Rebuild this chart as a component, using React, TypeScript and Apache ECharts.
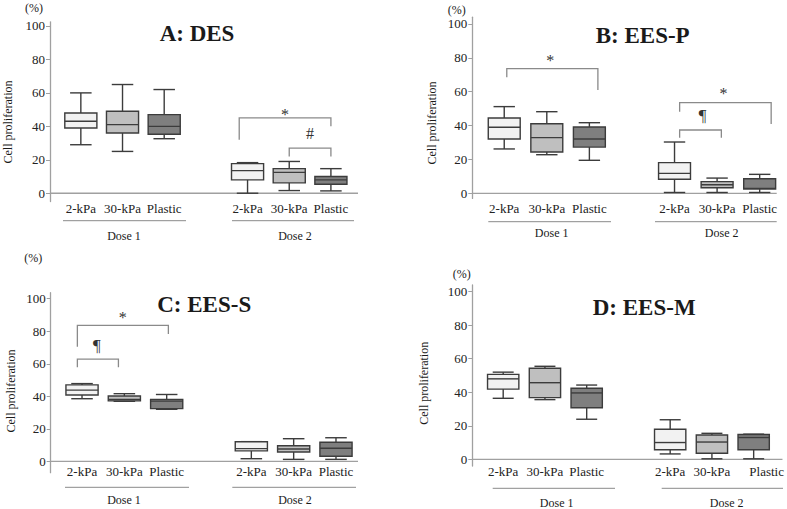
import React, { useEffect, useRef } from 'react';
import * as echarts from 'echarts';

const materials = ['2-kPa', '30-kPa', 'Plastic'];
const doses = ['Dose 1', 'Dose 2'];
const yTicks = [0, 20, 40, 60, 80, 100];
const panelTitles = ['A: DES', 'B: EES-P', 'C: EES-S', 'D: EES-M'];
const yTitle = 'Cell proliferation';
const unitLabel = '(%)';

// box stats: [min, Q1, median, Q3, max] for 2-kPa, 30-kPa, Plastic
const desDose1 = [[29, 39, 43, 48, 60], [25, 36, 41, 49, 65], [32.6, 35.3, 40, 47, 62]];
const desDose2 = [[0, 8, 13.5, 17.7, 18.3], [1.6, 6.2, 12.5, 14.7, 19], [1.4, 5.4, 8, 10, 14.7]];
const eesPDose1 = [[26.2, 32.1, 39, 44.5, 51.2], [22.8, 24.4, 32.9, 41.1, 48.2], [19.5, 27.3, 32.1, 39.2, 41.7]];
const eesPDose2 = [[0.5, 8.3, 11.8, 18.1, 30.3], [0.5, 3.3, 5.1, 6.9, 9], [0.5, 2.5, 2.9, 8.6, 11.2]];
const eesSDose1 = [[38.5, 40.8, 43.8, 47, 47.8], [36.9, 37.2, 38, 40.2, 41.6], [32, 32.4, 37, 38.1, 41.1]];
const eesSDose2 = [[1.6, 6.4, 7.8, 12, 12.1], [1.2, 5.7, 7.6, 9.6, 13.9], [1.2, 3.1, 8, 11.7, 14.5]];
const eesMDose1 = [[36.4, 41.9, 48, 50.7, 52], [35.6, 36.8, 45.7, 54.3, 55.5], [23.9, 30.8, 39.6, 42.4, 44.3]];
const eesMDose2 = [[3.2, 5.7, 10, 17.9, 23.6], [0.3, 3.6, 10.3, 14.5, 15.5], [0.3, 5.7, 13, 14.8, 15]];

// significance brackets: [leftX, rightX, topY, leftLegY, rightLegY, markX, markY]
const desBrackets = [[4.8, 7, 45, 32, 40, 5.9, 47], [6, 7, 27, 22, 22, 6.5, 36]];
const desMarks = ['*', '#'];
const eesPBrackets = [[1.06, 3.2, 73.6, 68.5, 61, 2.08, 78.5], [5.12, 7.27, 53.5, 48.2, 41, 6.15, 59], [5.12, 6.1, 37.4, 32.8, 32.8, 5.66, 46]];
const eesPMarks = ['*', '*', '¶'];
const eesSBrackets = [[0.89, 3.04, 83.6, 70.5, 78.3, 1.96, 88.5], [0.89, 1.86, 62.9, 57.8, 57.8, 1.35, 71.5]];
const eesSMarks = ['*', '¶'];
const eesMBrackets: number[][] = [];
const eesMMarks: string[] = [];

const fills = ['#f2f2f2', '#bfbfbf', '#7f7f7f'];
const FONT = 'Liberation Serif, Times New Roman, serif';

const panels = [
  { d1: desDose1, d2: desDose2, br: desBrackets, marks: desMarks,
    grid: { left: 50, top: 21.8, width: 308, height: 179.8 }, x: [0.26, 7.65], y: [-5, 102.5], boxFrac: 0.77, labelMargin: 0, shiftLast: false,
    titlePos: [197, 33], pctPos: [34, 7.5], yNamePos: [7.5, 122], underY: 220.7, under: [[63, 186], [232, 354]], doseY: 236, doseX: [124, 295] },
  { d1: eesPDose1, d2: eesPDose2, br: eesPBrackets, marks: eesPMarks,
    grid: { left: 472.3, top: 17.2, width: 304.4, height: 181.2 }, x: [0.25, 7.4], y: [-3, 104], boxFrac: 0.75, labelMargin: 3.4, shiftLast: false,
    titlePos: [642.7, 35], pctPos: [456.7, 9.5], yNamePos: [431.7, 123], underY: 221.7, under: [[488.3, 611], [655, 776.7]], doseY: 233.3, doseX: [551.7, 721.7] },
  { d1: eesSDose1, d2: eesSDose2, br: eesSBrackets, marks: eesSMarks,
    grid: { left: 50.7, top: 292.7, width: 307.3, height: 180 }, x: [0.26, 7.52], y: [-7, 103.7], boxFrac: 0.76, labelMargin: -7.5, shiftLast: false,
    titlePos: [204.2, 304], pctPos: [33.3, 257.5], yNamePos: [10.8, 391], underY: 487.3, under: [[65, 189], [232.3, 356]], doseY: 500, doseX: [124, 295] },
  { d1: eesMDose1, d2: eesMDose2, br: eesMBrackets, marks: eesMMarks,
    grid: { left: 472.3, top: 285, width: 310.7, height: 181 }, x: [0.26, 7.69], y: [-4, 104], boxFrac: 0.75, labelMargin: -0.8, shiftLast: true,
    titlePos: [644.2, 307.5], pctPos: [461.7, 273.5], yNamePos: [424, 383.3], underY: 488.3, under: [[492.7, 615], [661.7, 783]], doseY: 503.3, doseX: [556.7, 726.7] },
];

const slotOf = (dose: number, mat: number) => dose * 4 + mat + 1;

export default function App() {
  const ref = useRef<HTMLDivElement>(null);
  useEffect(() => {
    if (!ref.current) return;
    const chart = echarts.init(ref.current, null, { renderer: 'svg' });
    const grids: any[] = [];
    const xAxes: any[] = [];
    const yAxes: any[] = [];
    const series: any[] = [];
    const graphics: any[] = [];
    const lineCol = '#a0a0a0';
    const boxStroke = '#3c3c3c';

    panels.forEach((p, pi) => {
      grids.push({ ...p.grid, containLabel: false });
      xAxes.push({
        type: 'value', gridIndex: pi, min: p.x[0], max: p.x[1],
        splitLine: { show: false },
        axisTick: { show: false },
        axisLine: { show: false, onZero: false },
        axisLabel: {
          customValues: [1, 2, 3, 5, 6, 7],
          margin: p.labelMargin,
          color: '#222', fontFamily: FONT, fontSize: 13,
          rich: { s: { padding: [0, 0, 0, 26], color: '#222', fontFamily: FONT, fontSize: 13 } },
          formatter: (v: number) => {
            const i = Math.round(v);
            const k = i > 4 ? i - 5 : i - 1;
            const name = materials[k] ?? '';
            return p.shiftLast && i === 7 ? `{s|${name}}` : name;
          },
        },
      });
      yAxes.push({
        type: 'value', gridIndex: pi, min: p.y[0], max: p.y[1],
        splitLine: { show: false },
        axisLine: { show: true, onZero: false, lineStyle: { color: lineCol, width: 1.3 } },
        axisTick: { show: true, customValues: yTicks, length: 4, lineStyle: { color: lineCol } },
        axisLabel: { customValues: yTicks, color: '#222', fontFamily: FONT, fontSize: 13, margin: 5 },
      });
      // baseline (x-axis line at value 0)
      series.push({
        type: 'line', name: 'baseline', xAxisIndex: pi, yAxisIndex: pi, silent: true,
        data: [[p.x[0], 0], [p.x[1], 0]], symbol: 'none',
        lineStyle: { color: lineCol, width: 1.3 }, z: 1,
      });
      materials.forEach((m, mi) => {
        series.push({
          type: 'custom', name: m, xAxisIndex: pi, yAxisIndex: pi, clip: false, silent: true, z: 3,
          data: [0, 1].map((d) => [slotOf(d, mi), ...(d === 0 ? p.d1 : p.d2)[mi]]),
          renderItem: (params: any, api: any) => {
            const x = api.value(0);
            const lo = api.value(1), q1 = api.value(2), md = api.value(3), q3 = api.value(4), hi = api.value(5);
            const c = (v: number) => api.coord([x, v]);
            const cx = c(md)[0];
            const unit = api.size([1, 0])[0];
            const bw = unit * p.boxFrac;
            const cw = bw * 0.67;
            const yLo = c(lo)[1], yQ1 = c(q1)[1], yMd = c(md)[1], yQ3 = c(q3)[1], yHi = c(hi)[1];
            const st = { stroke: boxStroke, lineWidth: 1.4 };
            return {
              type: 'group',
              children: [
                { type: 'line', shape: { x1: cx, y1: yHi, x2: cx, y2: yQ3 }, style: st },
                { type: 'line', shape: { x1: cx, y1: yQ1, x2: cx, y2: yLo }, style: st },
                { type: 'line', shape: { x1: cx - cw / 2, y1: yHi, x2: cx + cw / 2, y2: yHi }, style: st },
                { type: 'line', shape: { x1: cx - cw / 2, y1: yLo, x2: cx + cw / 2, y2: yLo }, style: st },
                { type: 'rect', shape: { x: cx - bw / 2, y: yQ3, width: bw, height: yQ1 - yQ3 }, style: { fill: fills[mi], stroke: boxStroke, lineWidth: 1.4 } },
                { type: 'line', shape: { x1: cx - bw / 2, y1: yMd, x2: cx + bw / 2, y2: yMd }, style: st },
              ],
            };
          },
        });
      });
      if (p.br.length) {
        series.push({
          type: 'custom', name: 'significance', xAxisIndex: pi, yAxisIndex: pi, clip: false, silent: true, z: 3,
          data: p.br,
          renderItem: (params: any, api: any) => {
            const x1 = api.value(0), x2 = api.value(1), top = api.value(2), l = api.value(3), r = api.value(4);
            const mx = api.value(5), my = api.value(6);
            const pt = api.coord([mx, my]);
            const mark = p.marks[params.dataIndex];
            return {
              type: 'group',
              children: [
                { type: 'polyline', shape: { points: [api.coord([x1, l]), api.coord([x1, top]), api.coord([x2, top]), api.coord([x2, r])] },
                  style: { stroke: '#8a8a8a', lineWidth: 1.3, fill: 'none' } },
                { type: 'text', x: pt[0], y: pt[1],
                  style: { text: mark, fontFamily: FONT, fontSize: mark === '¶' ? 17 : 16, fill: '#333', align: 'center', verticalAlign: 'middle', textAlign: 'center', textVerticalAlign: 'middle' } },
              ],
            };
          },
        });
      }
      const txt = (text: string, x: number, y: number, size: number, bold = false, rotation = 0) => ({
        type: 'text', x, y, rotation, silent: true,
        style: { text, fontFamily: FONT, fontSize: size, fontWeight: bold ? 'bold' : 'normal', fill: '#1a1a1a', align: 'center', verticalAlign: 'middle', textAlign: 'center', textVerticalAlign: 'middle' },
      });
      graphics.push(txt(panelTitles[pi], p.titlePos[0], p.titlePos[1], 23, true));
      graphics.push(txt(unitLabel, p.pctPos[0], p.pctPos[1], 12));
      graphics.push(txt(yTitle, p.yNamePos[0], p.yNamePos[1], 12, false, Math.PI / 2));
      p.under.forEach((u, di) => {
        graphics.push({ type: 'line', silent: true, shape: { x1: u[0], y1: p.underY, x2: u[1], y2: p.underY }, style: { stroke: '#8a8a8a', lineWidth: 1 } });
        graphics.push(txt(doses[di], p.doseX[di], p.doseY, 12));
      });
    });

    chart.setOption({
      animation: false,
      backgroundColor: '#ffffff',
      grid: grids,
      xAxis: xAxes,
      yAxis: yAxes,
      series,
      graphic: graphics,
    });
    return () => chart.dispose();
  }, []);
  return <div ref={ref} style={{ position: 'fixed', left: 0, top: 0, width: 787, height: 509, background: '#fff' }} />;
}
